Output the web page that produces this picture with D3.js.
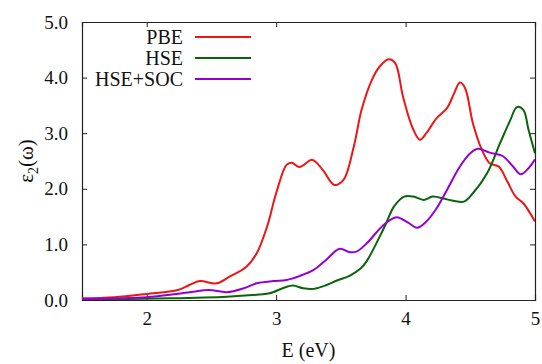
<!DOCTYPE html>
<html>
<head>
<meta charset="utf-8">
<script src="https://cdn.jsdelivr.net/npm/d3@7"></script>
<style>
  body { margin: 0; background: #fff; }
  .axis path, .axis line { stroke: #222; }
</style>
</head>
<body>
<svg id="chart" width="542" height="364"></svg>
<script>
// E (eV) vs eps2
var pbe = [
    [1.5, 0.03], [1.75, 0.05], [2.0, 0.11], [2.24, 0.18], [2.33, 0.27], [2.41, 0.34],
    [2.54, 0.30], [2.64, 0.42], [2.77, 0.60], [2.85, 0.84], [2.93, 1.32], [3.0, 1.92],
    [3.08, 2.43], [3.12, 2.47], [3.18, 2.39], [3.28, 2.52], [3.36, 2.34], [3.45, 2.07],
    [3.52, 2.16], [3.60, 2.76], [3.66, 3.42], [3.74, 3.96], [3.80, 4.20], [3.87, 4.33],
    [3.92, 4.26], [3.98, 3.66], [4.05, 3.12], [4.11, 2.88], [4.16, 3.0], [4.24, 3.27],
    [4.32, 3.45], [4.37, 3.69], [4.42, 3.91], [4.46, 3.81], [4.52, 3.18], [4.59, 2.70],
    [4.65, 2.46], [4.72, 2.40], [4.78, 2.16], [4.85, 1.86], [4.91, 1.74], [5.0, 1.41]
];
var hse = [
    [1.5, 0.01], [1.85, 0.02], [2.18, 0.03], [2.62, 0.06], [2.87, 0.10], [2.95, 0.12],
    [3.06, 0.22], [3.13, 0.26], [3.21, 0.21], [3.29, 0.20], [3.39, 0.27], [3.47, 0.35],
    [3.57, 0.44], [3.65, 0.56], [3.70, 0.70], [3.80, 1.14], [3.85, 1.38], [3.91, 1.68],
    [3.99, 1.86], [4.06, 1.86], [4.14, 1.80], [4.21, 1.86], [4.32, 1.81], [4.45, 1.77],
    [4.52, 1.92], [4.63, 2.28], [4.73, 2.82], [4.81, 3.24], [4.86, 3.47], [4.91, 3.42],
    [4.95, 3.06], [5.0, 2.64]
];
var hseSoc = [
    [1.5, 0.02], [2.0, 0.05], [2.23, 0.11], [2.36, 0.15], [2.48, 0.18], [2.62, 0.14],
    [2.75, 0.21], [2.85, 0.30], [2.98, 0.34], [3.08, 0.36], [3.18, 0.43], [3.29, 0.54],
    [3.39, 0.73], [3.49, 0.92], [3.57, 0.86], [3.62, 0.87], [3.70, 1.02], [3.83, 1.35],
    [3.93, 1.49], [4.02, 1.39], [4.09, 1.30], [4.16, 1.41], [4.24, 1.65], [4.32, 1.98],
    [4.42, 2.40], [4.50, 2.64], [4.56, 2.72], [4.65, 2.65], [4.75, 2.59], [4.83, 2.40],
    [4.89, 2.26], [4.95, 2.37], [5.0, 2.53]
];
var seriesNames = ["PBE", "HSE", "HSE+SOC"];
var seriesColors = ["#ee1515", "#0a640a", "#9400d3"];
var xTicks = [2, 3, 4, 5];
var yTicks = [0, 1, 2, 3, 4, 5];

var serif = "'Liberation Serif'";
var svg = d3.select("#chart");
var margin = { top: 22, right: 7, bottom: 64, left: 82 }
    , width = svg.attr("width") - margin.left - margin.right
    , height = svg.attr("height") - margin.top - margin.bottom;

var xScale = d3.scaleLinear().domain([1.5, 5]).range([0, width]);
var yScale = d3.scaleLinear().domain([0, 5]).range([height, 0]);

var g = svg.append("g")
    .attr("transform", `translate(${margin.left},${margin.top})`);

// clip so curves stay in the frame
g.append("clipPath").attr("id", "clip")
    .append("rect").attr("width", width).attr("height", height);

// axes, ticks pointing inward
g.append("g").classed("axis", true)
    .attr("transform", "translate(0," + height + ")")
    .call(d3.axisBottom(xScale).tickValues(xTicks).tickSize(-5).tickPadding(12).tickFormat(d3.format("d")));
g.append("g").classed("axis", true)
    .call(d3.axisTop(xScale).tickValues(xTicks).tickSize(-5).tickFormat(""));
g.append("g").classed("axis", true)
    .call(d3.axisLeft(yScale).tickValues(yTicks).tickSize(-5).tickPadding(14).tickFormat(d3.format(".1f")));
g.append("g").classed("axis", true)
    .attr("transform", "translate(" + width + ",0)")
    .call(d3.axisRight(yScale).tickValues(yTicks).tickSize(-5).tickFormat(""));
g.selectAll(".axis").attr("font-family", serif).attr("font-size", 19);
g.selectAll(".axis text").attr("fill", "#111");
g.selectAll(".axis .domain").attr("stroke-width", 1.2);

// axis titles
g.append("text")
    .attr("x", width / 2)
    .attr("y", height + 57)
    .attr("text-anchor", "middle")
    .attr("font-family", serif)
    .attr("font-size", 20)
    .attr("fill", "#111")
    .text("E (eV)");

var yTitle = g.append("text")
    .attr("transform", `translate(${-49},${height / 2}) rotate(-90)`)
    .attr("text-anchor", "middle")
    .attr("font-family", serif)
    .attr("font-size", 21)
    .attr("fill", "#111");
yTitle.append("tspan").text("ε");
yTitle.append("tspan").attr("dy", 5).attr("font-size", 14).text("2");
yTitle.append("tspan").attr("dy", -5).text("(ω)");

// curves
var line = d3.line()
    .x(d => xScale(d[0]))
    .y(d => yScale(d[1]))
    .curve(d3.curveCatmullRom.alpha(0.5));

[pbe, hse, hseSoc].forEach(function (s, i) {
    g.append("path")
        .datum(s)
        .attr("clip-path", "url(#clip)")
        .attr("fill", "none")
        .attr("stroke", seriesColors[i])
        .attr("stroke-width", 2)
        .attr("d", line);
});

// legend
var legend = g.append("g");
var entries = legend.selectAll("g").data(seriesNames).enter().append("g")
    .attr("transform", (d, i) => `translate(0,${15 + i * 21})`);
entries.append("text")
    .attr("x", 101)
    .attr("dy", "0.33em")
    .attr("text-anchor", "end")
    .attr("font-family", serif)
    .attr("font-size", 20)
    .attr("fill", "#111")
    .text(d => d);
entries.append("line")
    .attr("x1", 113).attr("x2", 169)
    .attr("stroke", (d, i) => seriesColors[i])
    .attr("stroke-width", 2);
</script>
</body>
</html>
